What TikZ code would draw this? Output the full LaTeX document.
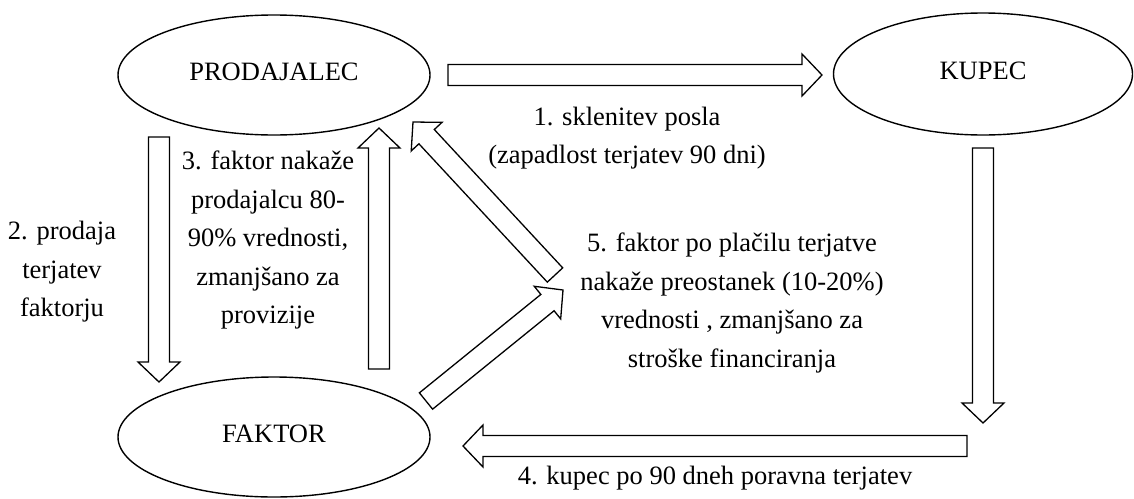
\documentclass[tikz,border=0pt]{standalone}
\usepackage{fontspec}
\setmainfont{Liberation Serif}
\usetikzlibrary{shapes.geometric,calc}
\tikzset{
  party/.style={draw, line width=1.4pt, ellipse, inner sep=0pt, text depth=6pt,
    font=\fontsize{26.5}{38.5}\selectfont},
  lbl/.style={align=center, inner sep=0pt, font=\fontsize{26.5}{38.5}\selectfont},
  blockarrow/.style={draw, line width=1.3pt, fill=white, line join=miter},
}
\newcommand{\bsw}{10.5pt}
\newcommand{\bhw}{21pt}
\newcommand{\bhl}{20pt}
\newcommand{\blockarr}[2]{%
  \coordinate (#1-h) at ($(#2)!\bhl!(#1)$);
  \draw[blockarrow] ($(#1)!\bsw!90:(#2)$) -- ($(#1-h)!\bsw!90:(#2)$)
    -- ($(#1-h)!\bhw!90:(#2)$) -- (#2) -- ($(#1-h)!\bhw!-90:(#2)$)
    -- ($(#1-h)!\bsw!-90:(#2)$) -- ($(#1)!\bsw!-90:(#2)$) -- cycle;}
\begin{document}
\begin{tikzpicture}[x=1pt,y=-1pt]
\useasboundingbox[fill=white] (0,0) rectangle (1134,498);
% parties
\node[party, minimum width=312pt, minimum height=120pt] (prod) at (274,75) {PRODAJALEC};
\node[party, minimum width=299pt, minimum height=122pt] (kup) at (983,74) {KUPEC};
\node[party, minimum width=312pt, minimum height=120pt] (fak) at (274,437) {FAKTOR};
% arrow end points
\coordinate (a1s) at (448,75);  \coordinate (a1e) at (822,75);
\coordinate (a2s) at (159,137); \coordinate (a2e) at (159,382);
\coordinate (a3s) at (379,369); \coordinate (a3e) at (379,128);
\coordinate (a4s) at (967,446); \coordinate (a4e) at (463,446);
\coordinate (a5s) at (555,275); \coordinate (a5e) at (413,122);
\coordinate (a6s) at (426,401); \coordinate (a6e) at (563,290);
\coordinate (a7s) at (983,148); \coordinate (a7e) at (983,423);
\blockarr{a1s}{a1e}
\blockarr{a2s}{a2e}
\blockarr{a3s}{a3e}
\blockarr{a4s}{a4e}
\blockarr{a5s}{a5e}
\blockarr{a6s}{a6e}
\blockarr{a7s}{a7e}
% labels
\node[lbl] (l1) at (627,138) {1. sklenitev posla\\(zapadlost terjatev 90 dni)};
\node[lbl] (l2) at (62,272) {2. prodaja\\terjatev\\faktorju};
\node[lbl] (l3) at (268,240) {3. faktor nakaže\\prodajalcu 80-\\90\% vrednosti,\\zmanjšano za\\provizije};
\node[lbl] (l4) at (715,478) {4. kupec po 90 dneh poravna terjatev};
\node[lbl] (l5) at (732,303) {5. faktor po plačilu terjatve\\nakaže preostanek (10-20\%)\\vrednosti , zmanjšano za\\stroške financiranja};
\end{tikzpicture}
\end{document}
